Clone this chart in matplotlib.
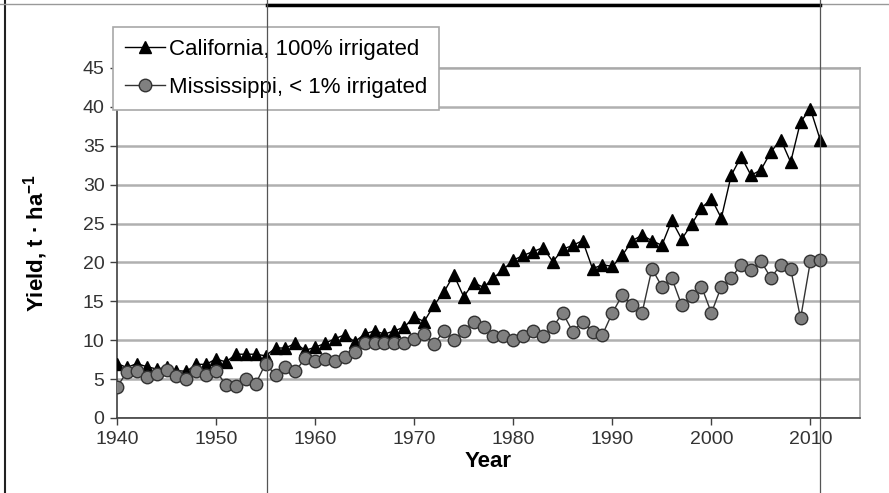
import numpy as np
import matplotlib.pyplot as plt
from matplotlib.lines import Line2D

plt.rcParams['font.family'] = ['Liberation Sans', 'DejaVu Sans']
plt.rcParams['mathtext.fontset'] = 'custom'
plt.rcParams['mathtext.rm'] = 'Liberation Sans'
plt.rcParams['mathtext.bf'] = 'Liberation Sans:bold'

years = np.arange(1940, 2012)

california = [7.0, 6.5, 7.0, 6.6, 6.3, 6.5, 6.1, 6.0, 6.9, 6.9,
              7.6, 7.2, 8.2, 8.2, 8.2, 8.0, 9.0, 9.0, 9.6, 8.7,
              9.1, 9.6, 10.2, 10.7, 9.8, 10.8, 11.2, 10.8, 11.2, 11.7,
              13.0, 12.4, 14.5, 16.2, 18.4, 15.6, 17.4, 16.8, 18.0, 19.1,
              20.3, 20.9, 21.4, 21.9, 20.1, 21.7, 22.2, 22.8, 19.2, 19.7,
              19.5, 20.9, 22.8, 23.5, 22.8, 22.2, 25.4, 23.0, 24.9, 27.0,
              28.2, 25.7, 31.2, 33.6, 31.2, 31.9, 34.2, 35.8, 32.9, 38.1,
              39.7, 35.7]

mississippi = [4.0, 5.9, 6.0, 5.3, 5.6, 6.2, 5.4, 5.0, 6.0, 5.5,
               6.1, 4.2, 4.1, 5.0, 4.4, 7.0, 5.5, 6.5, 6.0, 7.7,
               7.3, 7.6, 7.3, 7.8, 8.5, 9.6, 9.6, 9.6, 9.6, 9.6,
               10.2, 10.8, 9.5, 11.2, 10.0, 11.2, 12.4, 11.7, 10.6, 10.6,
               10.0, 10.6, 11.2, 10.6, 11.7, 13.5, 11.1, 12.4, 11.1, 10.7,
               13.5, 15.8, 14.5, 13.5, 19.2, 16.9, 18.0, 14.5, 15.7, 16.9,
               13.5, 16.9, 18.0, 19.7, 19.0, 20.2, 18.0, 19.7, 19.2, 12.8,
               20.2, 20.3]

fig = plt.figure(figsize=(8.89, 4.93), dpi=100)
ax = fig.add_axes([117 / 889, 1 - 418 / 493, (860 - 117) / 889, (418 - 68) / 493])

ax.plot(years, california, color='black', lw=1, marker='^', ms=8.5,
        mfc='black', mec='black', label='California, 100% irrigated', zorder=3)
ax.plot(years, mississippi, color='#333333', lw=1, marker='o', ms=9,
        mfc='#808080', mec='#333333', mew=1, label='Mississippi, < 1% irrigated', zorder=3)

ax.set_xlim(1940, 2015)
ax.set_ylim(0, 45)
ax.set_xticks(range(1940, 2011, 10))
ax.set_yticks(range(0, 46, 5))
ax.yaxis.grid(True, color='#b0b0b0', lw=1.8)
ax.set_axisbelow(True)

for s in ['top', 'right']:
    ax.spines[s].set_color('#a8a8a8')
    ax.spines[s].set_linewidth(1.2)
for s in ['left', 'bottom']:
    ax.spines[s].set_color('#404040')
    ax.spines[s].set_linewidth(1.2)

ax.tick_params(axis='both', direction='out', length=5, width=1, color='#404040',
               labelsize=14, labelcolor='#333333', pad=4)

ax.set_xlabel('Year', fontsize=16, fontweight='bold')
ax.set_ylabel(r'Yield, t · ha$^{\mathbf{-1}}$', fontsize=16, fontweight='bold')
ax.xaxis.set_label_coords(0.5, -0.095)
ax.yaxis.set_label_coords(-0.09, 0.5)

leg = ax.legend(loc='upper left', bbox_to_anchor=(113 / 889, 1 - 27 / 493),
                bbox_transform=fig.transFigure, fontsize=16, frameon=True,
                fancybox=False, edgecolor='#a8a8a8', framealpha=1,
                handlelength=1.8, handletextpad=0.15, labelspacing=0.75,
                borderpad=0.55, borderaxespad=0)
leg.get_frame().set_linewidth(1.2)

# scan border artefacts
fig.add_artist(Line2D([5 / 889, 5 / 889], [0, 1], color='#222222', lw=1.5))
fig.add_artist(Line2D([0, 1], [1 - 4 / 493, 1 - 4 / 493], color='#999999', lw=1))
fig.add_artist(Line2D([267 / 889, 820 / 889], [1 - 5 / 493, 1 - 5 / 493], color='black', lw=2.5))
fig.add_artist(Line2D([267 / 889, 267 / 889], [0, 1], color='#555555', lw=0.9))
fig.add_artist(Line2D([820 / 889, 820 / 889], [0, 1], color='#555555', lw=0.9))

fig.savefig('out.png', dpi=100)
